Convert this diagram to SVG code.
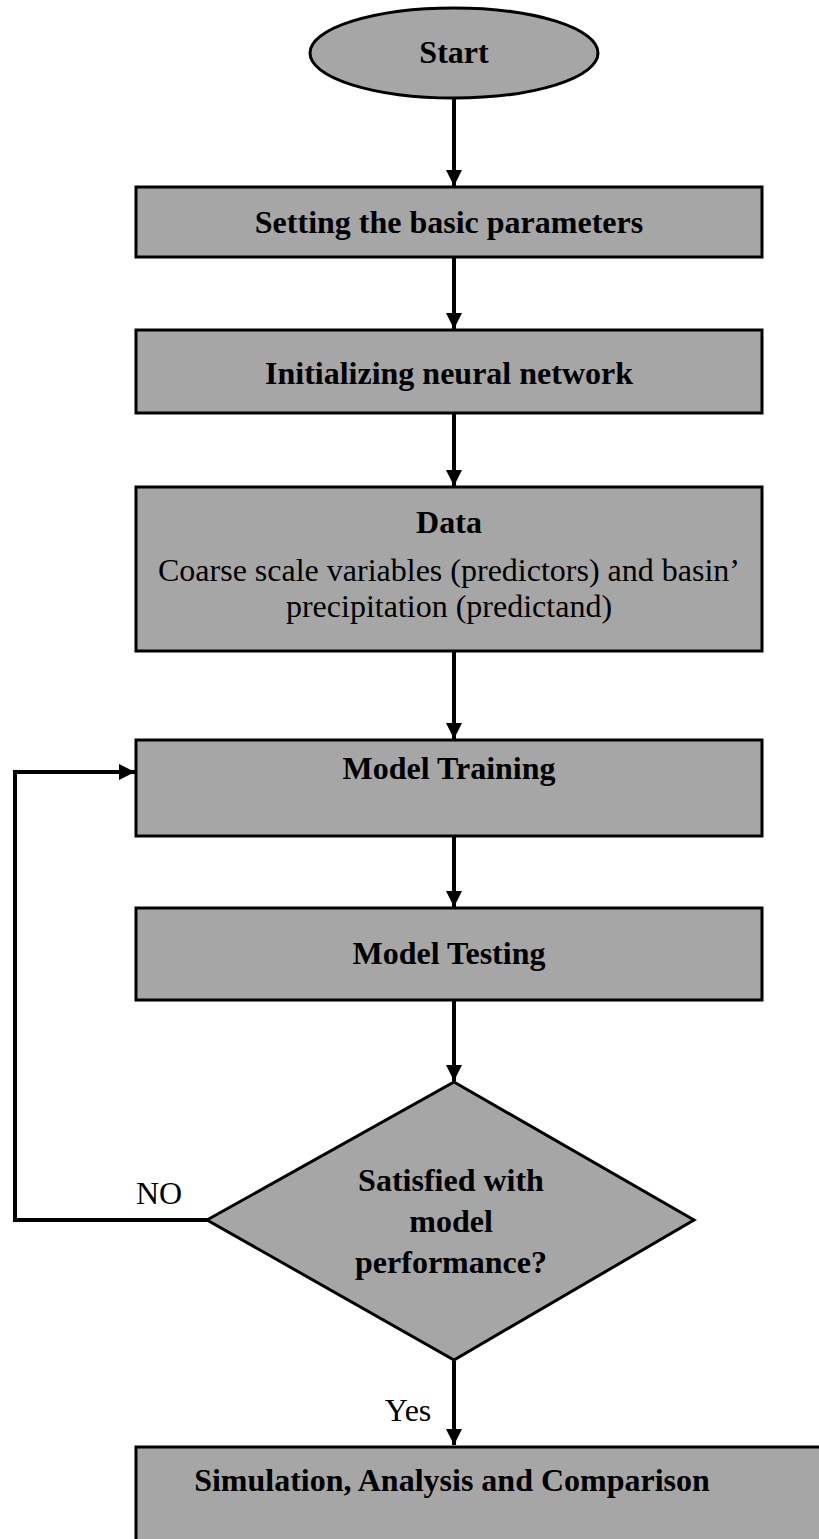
<svg xmlns="http://www.w3.org/2000/svg" width="819" height="1539" viewBox="0 0 819 1539">
<style>
.n{fill:#a6a6a6;stroke:#000;stroke-width:3}
.t{font-family:"Liberation Serif","Times New Roman",serif;font-weight:bold;font-size:32px;text-anchor:middle;fill:#000}
.r{font-family:"Liberation Serif","Times New Roman",serif;font-size:32px;text-anchor:middle;fill:#000}
.c{fill:none;stroke:#000;stroke-width:4}
</style>
<defs>
<marker id="a" markerWidth="16" markerHeight="16" refX="16" refY="8" orient="auto" markerUnits="userSpaceOnUse">
<path d="M0,0 L16,8 L0,16 Z" fill="#000"/>
</marker>
</defs>
<rect width="819" height="1539" fill="#fff"/>
<g id="connectors">
<path class="c" d="M454,99 V186" marker-end="url(#a)"/>
<path class="c" d="M454,258 V329" marker-end="url(#a)"/>
<path class="c" d="M454,414 V486" marker-end="url(#a)"/>
<path class="c" d="M454,652 V739" marker-end="url(#a)"/>
<path class="c" d="M454,837 V907" marker-end="url(#a)"/>
<path class="c" d="M454,1001 V1081" marker-end="url(#a)"/>
<path class="c" d="M207,1220 H15 V772 H135" marker-end="url(#a)"/>
<path class="c" d="M454,1361 V1445" marker-end="url(#a)"/>
<text class="r" x="159" y="1204">NO</text>
<text class="r" x="408" y="1421">Yes</text>
</g>
<g id="start">
<ellipse class="n" cx="454" cy="53" rx="144" ry="45"/>
<text class="t" x="454" y="63" font-size="28">Start</text>
</g>
<g id="setting">
<rect class="n" x="136" y="187" width="626" height="70"/>
<text class="t" x="449" y="233">Setting the basic parameters</text>
</g>
<g id="init">
<rect class="n" x="136" y="330" width="626" height="83"/>
<text class="t" x="449" y="384">Initializing neural network</text>
</g>
<g id="data">
<rect class="n" x="136" y="487" width="626" height="164"/>
<text class="t" x="449" y="533" font-size="44">Data</text>
<text class="r" x="449" y="581">Coarse scale variables (predictors) and basin’</text>
<text class="r" x="449" y="617">precipitation (predictand)</text>
</g>
<g id="training">
<rect class="n" x="136" y="740" width="626" height="96"/>
<text class="t" x="449" y="779">Model Training</text>
</g>
<g id="testing">
<rect class="n" x="136" y="908" width="626" height="92"/>
<text class="t" x="449" y="964">Model Testing</text>
</g>
<g id="decision">
<polygon class="n" points="454,1082 694,1220 454,1360 207,1220"/>
<text class="t" x="451" y="1191">Satisfied with</text>
<text class="t" x="451" y="1232">model</text>
<text class="t" x="451" y="1273">performance?</text>
</g>
<g id="simulation">
<rect class="n" x="136" y="1447" width="700" height="110"/>
<text class="t" x="452" y="1491">Simulation, Analysis and Comparison</text>
</g>
</svg>
